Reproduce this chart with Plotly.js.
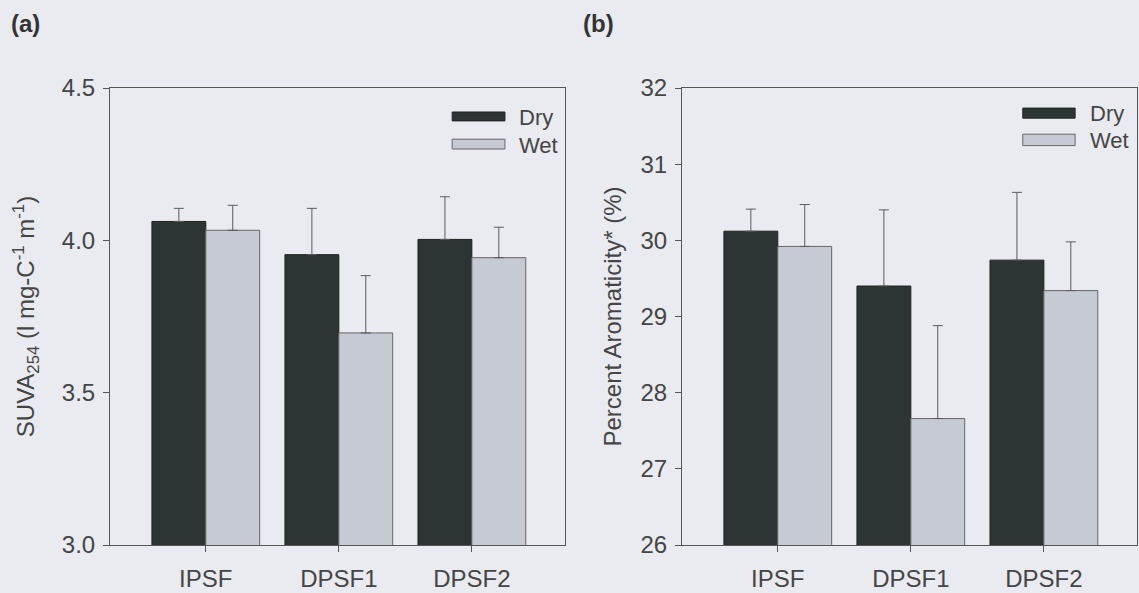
<!DOCTYPE html>
<html>
<head>
<meta charset="utf-8">
<script src="https://cdn.plot.ly/plotly-3.0.1.min.js"></script>
<style>
  html, body { margin: 0; padding: 0; background: #e9ebf0; }
  #chart { width: 1139px; height: 593px; }
</style>
</head>
<body>
<div id="chart"></div>
<script>
// ---- data ----
const categories = ["IPSF", "DPSF1", "DPSF2"];
const seriesNames = ["Dry", "Wet"];

// Panel (a): SUVA254
const suvaDry = [4.062, 3.953, 4.003];
const suvaDryErr = [0.043, 0.152, 0.140];
const suvaWet = [4.033, 3.696, 3.943];
const suvaWetErr = [0.082, 0.188, 0.100];

// Panel (b): Percent aromaticity
const aromDry = [30.12, 29.40, 29.74];
const aromDryErr = [0.29, 1.00, 0.89];
const aromWet = [29.92, 27.66, 29.34];
const aromWetErr = [0.55, 1.22, 0.64];

// ---- styles ----
const FONT = "Liberation Sans, Arial, Helvetica, sans-serif";
const TXT = "#454545";
const DARK = "#2c3434";
const LIGHT = "#c6cad2";
const zeros = [0, 0, 0];

function barTrace(name, y, err, color, lineColor, xa, ya) {
  return {
    type: "bar",
    name: name,
    x: categories,
    y: y,
    xaxis: xa,
    yaxis: ya,
    showlegend: false,
    marker: { color: color, line: { color: lineColor, width: 1 } },
    error_y: {
      type: "data", symmetric: false, array: err, arrayminus: zeros,
      color: "#5a5a5a", thickness: 1, width: 5
    }
  };
}

const traces = [
  barTrace(seriesNames[0], suvaDry, suvaDryErr, DARK, "#222", "x", "y"),
  barTrace(seriesNames[1], suvaWet, suvaWetErr, LIGHT, "#666", "x", "y"),
  barTrace(seriesNames[0], aromDry, aromDryErr, DARK, "#222", "x2", "y2"),
  barTrace(seriesNames[1], aromWet, aromWetErr, LIGHT, "#666", "x2", "y2")
];

const W = 1139, H = 593;
const xa = [110 / W, 565 / W];
const xb = [682 / W, 1137 / W];
const yd = [(H - 545) / H, (H - 88) / H];

function xAxis(domain, anchor) {
  return {
    domain: domain, anchor: anchor, type: "category",
    range: [-0.72, 2.70],
    showline: true, mirror: true, linecolor: "#555", linewidth: 1,
    ticks: "outside", ticklen: 6, tickcolor: "#555", tickwidth: 1,
    showgrid: false, zeroline: false, fixedrange: true,
    tickfont: { family: FONT, size: 24, color: TXT },
    ticklabelstandoff: 6
  };
}
function yAxis(domain, anchor, range, dtick, fmt, title, standoff) {
  return {
    domain: domain, anchor: anchor, range: range, dtick: dtick, tick0: range[0],
    tickformat: fmt,
    showline: true, mirror: true, linecolor: "#555", linewidth: 1,
    ticks: "outside", ticklen: 6, tickcolor: "#555", tickwidth: 1,
    showgrid: false, zeroline: false, fixedrange: true,
    tickfont: { family: FONT, size: 24, color: TXT },
    ticklabelstandoff: 3,
    title: { text: title, font: { family: FONT, size: 24, color: TXT }, standoff: standoff }
  };
}

// legend drawn in axis-domain coordinates
function legendShapes(xref, yref, x0, x1, yDry, yWet) {
  return [
    { type: "rect", xref: xref, yref: yref, x0: x0, x1: x1, y0: yDry[0], y1: yDry[1],
      fillcolor: DARK, line: { color: "#222", width: 1 } },
    { type: "rect", xref: xref, yref: yref, x0: x0, x1: x1, y0: yWet[0], y1: yWet[1],
      fillcolor: LIGHT, line: { color: "#666", width: 1 } }
  ];
}
function legendText(xref, yref, x, yDry, yWet) {
  return [
    { xref: xref, yref: yref, x: x, y: yDry, text: seriesNames[0], showarrow: false,
      xanchor: "left", yanchor: "middle", font: { family: FONT, size: 22, color: TXT } },
    { xref: xref, yref: yref, x: x, y: yWet, text: seriesNames[1], showarrow: false,
      xanchor: "left", yanchor: "middle", font: { family: FONT, size: 22, color: TXT } }
  ];
}

const layout = {
  width: W, height: H,
  margin: { l: 0, r: 0, t: 0, b: 0 },
  paper_bgcolor: "#e9ebf0",
  plot_bgcolor: "rgba(0,0,0,0)",
  barmode: "group", bargap: 0.19, bargroupgap: 0,
  showlegend: false,
  font: { family: FONT, color: TXT },
  xaxis: xAxis(xa, "y"),
  yaxis: yAxis(yd, "x", [3.0, 4.5], 0.5, ".1f",
    "SUVA<sub>254</sub> (l mg-C<sup>-1</sup> m<sup>-1</sup>)", 20),
  xaxis2: xAxis(xb, "y2"),
  yaxis2: yAxis(yd, "x2", [26, 32], 1, "d", "Percent Aromaticity* (%)", 12),
  shapes: [
    ...legendShapes("x domain", "y domain", 0.752, 0.868, [0.928, 0.9475], [0.8665, 0.888]),
    ...legendShapes("x2 domain", "y2 domain", 0.749, 0.864, [0.934, 0.956], [0.874, 0.899])
  ],
  annotations: [
    ...legendText("x domain", "y domain", 0.895, 0.936, 0.875),
    ...legendText("x2 domain", "y2 domain", 0.892, 0.945, 0.886),
    { xref: "paper", yref: "paper", x: 9 / W, y: 1 - 24 / H, text: "<b>(a)</b>", showarrow: false,
      xanchor: "left", yanchor: "middle", font: { family: FONT, size: 24, color: "#333" } },
    { xref: "paper", yref: "paper", x: 581 / W, y: 1 - 24 / H, text: "<b>(b)</b>", showarrow: false,
      xanchor: "left", yanchor: "middle", font: { family: FONT, size: 24, color: "#333" } }
  ]
};

Plotly.newPlot("chart", traces, layout, { staticPlot: true, displayModeBar: false });
</script>
</body>
</html>
